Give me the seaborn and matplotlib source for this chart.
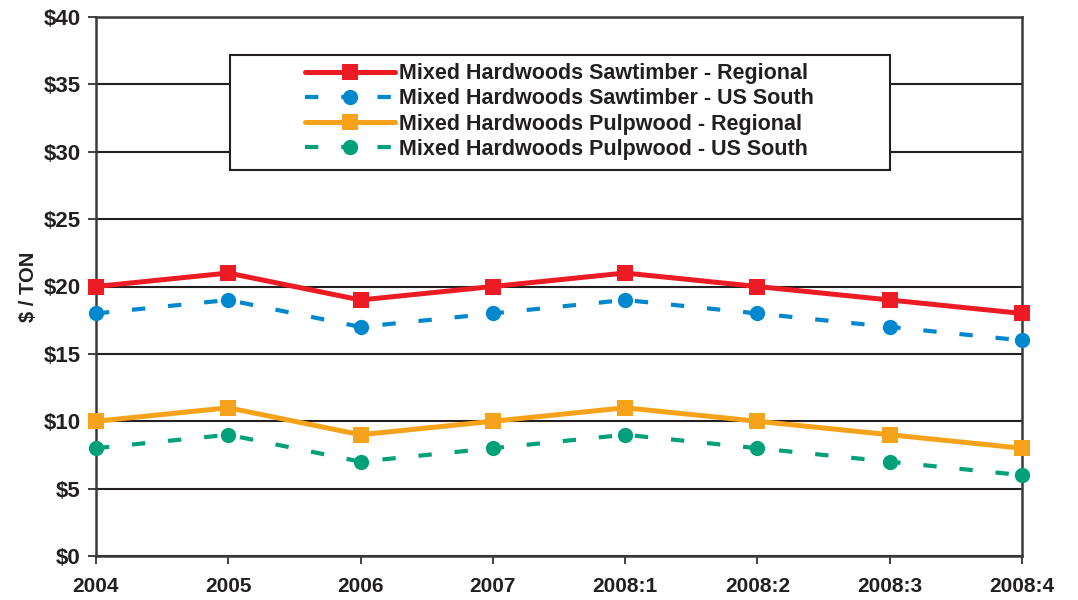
import matplotlib

matplotlib.use("Agg")
import matplotlib.pyplot as plt
import pandas as pd
import seaborn as sns
from matplotlib.patches import Rectangle

periods = ["2004", "2005", "2006", "2007", "2008:1", "2008:2", "2008:3", "2008:4"]
saw_regional = [20, 21, 19, 20, 21, 20, 19, 18]
saw_south = [18, 19, 17, 18, 19, 18, 17, 16]
pulp_regional = [10, 11, 9, 10, 11, 10, 9, 8]
pulp_south = [8, 9, 7, 8, 9, 8, 7, 6]

labels = [
    "Mixed Hardwoods Sawtimber - Regional",
    "Mixed Hardwoods Sawtimber - US South",
    "Mixed Hardwoods Pulpwood - Regional",
    "Mixed Hardwoods Pulpwood - US South",
]

RED = "#ED1C24"
BLUE = "#0088CF"
ORANGE = "#F7A21B"
GREEN = "#00A07A"
DARK = "#231F20"

sns.set_style("white")
plt.rcParams["font.family"] = ["Liberation Sans", "DejaVu Sans"]
plt.rcParams["font.weight"] = "bold"

fig = plt.figure(figsize=(10.78, 6), dpi=100)
ax = fig.add_axes([0.089, 0.0733, 0.859, 0.8984])

pos = list(range(len(periods)))
series = [
    (saw_regional, RED, "s", "-"),
    (saw_south, BLUE, "o", (0, (3.2, 5.5))),
    (pulp_regional, ORANGE, "s", "-"),
    (pulp_south, GREEN, "o", (0, (3.2, 5.5))),
]
for (vals, color, marker, ls), label in zip(series, labels):
    df = pd.DataFrame({"x": pos, "y": vals})
    sns.lineplot(data=df, x="x", y="y", ax=ax, color=color, marker=marker,
                 markersize=11, markeredgewidth=0, linewidth=3.6 if ls == "-" else 3.0,
                 linestyle=ls, label=label, clip_on=False, zorder=3)

ax.set_xlim(0, 7)
ax.set_ylim(0, 40)
ax.set_xticks(pos)
ax.set_xticklabels(periods)
ax.set_yticks(range(0, 41, 5))
ax.set_yticklabels([f"${v}" for v in range(0, 41, 5)])
ax.tick_params(axis="both", which="major", colors=DARK, direction="out",
               length=6, width=1.2, bottom=True, left=True)
ax.tick_params(axis="x", labelsize=15, pad=9)
ax.tick_params(axis="y", labelsize=16, pad=5)
ax.set_xlabel("")
ax.set_ylabel("$ / TON", fontsize=14.5, fontweight="bold", color=DARK, labelpad=4)
ax.yaxis.grid(True, color=DARK, linewidth=1.5)
ax.xaxis.grid(False)
for spine in ax.spines.values():
    spine.set_color("#3a3a3a")
    spine.set_linewidth(1.8)

# legend box drawn separately so the entries can sit right of its left edge
ax.add_patch(Rectangle((0.145, 0.716), 0.712, 0.213, transform=ax.transAxes,
                       facecolor="white", edgecolor=DARK, linewidth=1.5, zorder=4))
leg = ax.legend(loc="upper left", bbox_to_anchor=(0.216, 0.93), frameon=False,
                fontsize=15.5, handlelength=4.2, handletextpad=0.2, labelspacing=0.19,
                borderaxespad=0)
leg.set_zorder(5)
for text in leg.get_texts():
    text.set_color(DARK)

fig.savefig("out.png", dpi=100, facecolor="white")
